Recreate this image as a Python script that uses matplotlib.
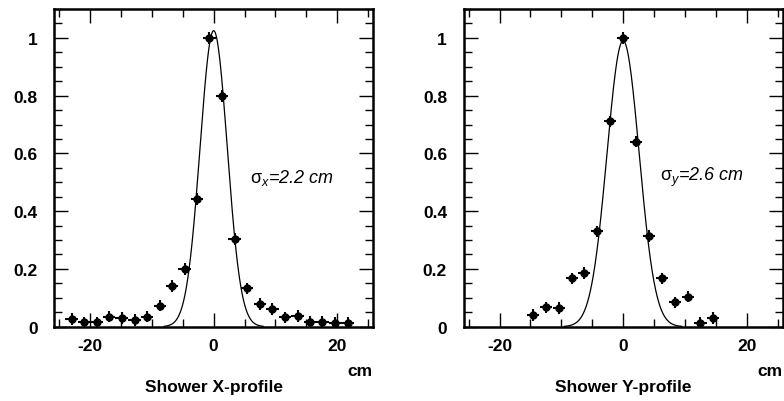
import numpy as np
import matplotlib
matplotlib.use("Agg")
import matplotlib.pyplot as plt
from matplotlib.ticker import MultipleLocator, FixedLocator, FixedFormatter

plt.rcParams['font.family'] = ['Liberation Sans', 'DejaVu Sans']
plt.rcParams['mathtext.fontset'] = 'custom'
plt.rcParams['mathtext.rm'] = 'Liberation Sans'
plt.rcParams['mathtext.it'] = 'Liberation Sans:italic'
plt.rcParams['mathtext.bf'] = 'Liberation Sans:bold'

# ---- data: X profile ----
x_pos = [-23.0, -21.0, -18.9, -16.9, -14.9, -12.8, -10.8, -8.7, -6.7, -4.7, -2.7,
         -0.7, 1.4, 3.4, 5.4, 7.5, 9.5, 11.5, 13.6, 15.6, 17.6, 19.7, 21.7]
x_val = [0.027, 0.015, 0.015, 0.035, 0.030, 0.023, 0.035, 0.073, 0.140, 0.200, 0.442,
         1.000, 0.798, 0.303, 0.133, 0.078, 0.062, 0.032, 0.037, 0.016, 0.016, 0.013, 0.013]
x_err = [0.02] * len(x_val)
x_fit = dict(amp=1.025, mean=0.0, sigma=2.2, lo=-8.0, hi=8.0)

# ---- data: Y profile ----
y_pos = [-14.6, -12.5, -10.4, -8.3, -6.3, -4.2, -2.1, 0.0, 2.1, 4.2, 6.3, 8.4, 10.5, 12.5, 14.6]
y_val = [0.041, 0.067, 0.064, 0.167, 0.186, 0.330, 0.711, 1.000, 0.641, 0.314, 0.167,
         0.084, 0.104, 0.013, 0.031]
y_err = [0.02] * len(y_val)
y_fit = dict(amp=0.99, mean=0.0, sigma=2.6, lo=-9.5, hi=9.5)

bin_half = 1.0
xlim = (-25.8, 25.8)
ylim = (0.0, 1.1)
yticks = [0, 0.2, 0.4, 0.6, 0.8, 1.0]
ytick_labels = ["0", "0.2", "0.4", "0.6", "0.8", "1"]
xticks = [-20, 0, 20]
xtick_labels = ["-20", "0", "20"]

fig = plt.figure(figsize=(7.84, 4.02), dpi=100)
H = 402.0
W = 784.0
bottom = 1 - 327.7 / H
height = (327.7 - 10.0) / H
ax1 = fig.add_axes([54.3 / W, bottom, (373.0 - 54.3) / W, height])
ax2 = fig.add_axes([463.7 / W, bottom, (782.5 - 463.7) / W, height])

panels = [
    (ax1, x_pos, x_val, x_err, x_fit, r"$\mathrm{\sigma}_{x}$=2.2 cm", "Shower X-profile", 250.0),
    (ax2, y_pos, y_val, y_err, y_fit, r"$\mathrm{\sigma}_{y}$=2.6 cm", "Shower Y-profile", 660.0),
]

FS = 12.5
for ax, pos, val, err, fit, stxt, title, tx in panels:
    ax.errorbar(pos, val, xerr=bin_half, yerr=err, fmt='o', color='black',
                markersize=5, elinewidth=1.5, capsize=0, zorder=3)
    xs = np.linspace(fit['lo'], fit['hi'], 400)
    ys = fit['amp'] * np.exp(-0.5 * ((xs - fit['mean']) / fit['sigma']) ** 2)
    ax.plot(xs, ys, color='black', lw=0.9, zorder=2)
    ax.set_xlim(*xlim)
    ax.set_ylim(*ylim)
    ax.xaxis.set_major_locator(FixedLocator(xticks))
    ax.xaxis.set_major_formatter(FixedFormatter(xtick_labels))
    ax.xaxis.set_minor_locator(MultipleLocator(5))
    ax.yaxis.set_major_locator(FixedLocator(yticks))
    ax.yaxis.set_major_formatter(FixedFormatter(ytick_labels))
    ax.yaxis.set_minor_locator(MultipleLocator(0.05))
    ax.tick_params(which='both', direction='in', top=True, right=True, width=1.0)
    ax.tick_params(which='major', length=10)
    ax.tick_params(which='minor', length=5.5)
    ax.tick_params(axis='y', which='major', pad=12, labelsize=FS)
    ax.tick_params(axis='x', which='major', pad=8, labelsize=FS)
    for lab in ax.get_xticklabels() + ax.get_yticklabels():
        lab.set_fontweight('bold')
    for sp in ax.spines.values():
        sp.set_linewidth(1.8)
    ax.text((tx - ax.get_position().x0 * W) / (ax.get_position().width * W),
            (327.7 - 177.5) / (327.7 - 10.0), stxt, transform=ax.transAxes,
            fontsize=13, style='italic', ha='left', va='center')
    ax.text(1.0, (327.7 - 372.0) / (327.7 - 10.0), "cm", transform=ax.transAxes,
            fontsize=FS, fontweight='bold', ha='right', va='center')
    ax.text(0.5, (327.7 - 388.0) / (327.7 - 10.0), title, transform=ax.transAxes,
            fontsize=FS, fontweight='bold', ha='center', va='center')

fig.savefig("out.png", dpi=100)
